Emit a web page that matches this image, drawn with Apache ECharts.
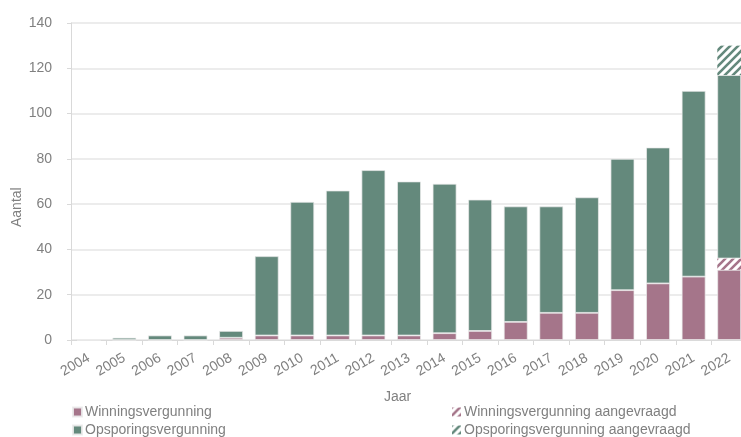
<!DOCTYPE html>
<html>
<head>
<meta charset="utf-8">
<script src="https://cdn.jsdelivr.net/npm/echarts@6/dist/echarts.min.js"></script>
<style>
html,body{margin:0;padding:0;background:#fff;}
#chart{width:741px;height:437px;}
</style>
</head>
<body>
<div id="chart"></div>
<script>
var years = ['2004','2005','2006','2007','2008','2009','2010','2011','2012','2013','2014','2015','2016','2017','2018','2019','2020','2021','2022'];
var winning = [0,0,0,0,1,2,2,2,2,2,3,4,8,12,12,22,25,28,31];
var winningAangevraagd = [null,null,null,null,null,null,null,null,null,null,null,null,null,null,null,null,null,null,5];
var opsporing = [0,1,2,2,3,35,59,64,73,68,66,58,51,47,51,58,60,82,81];
var opsporingAangevraagd = [null,null,null,null,null,null,null,null,null,null,null,null,null,null,null,null,null,null,13];

var GREEN = '#64897c';
var PINK = '#a5758a';

function hatch(color){
  var c = document.createElement('canvas');
  c.width = 8; c.height = 8;
  var ctx = c.getContext('2d');
  ctx.fillStyle = '#ffffff';
  ctx.fillRect(0,0,8,8);
  ctx.strokeStyle = color;
  ctx.lineWidth = 2.6;
  ctx.beginPath();
  ctx.moveTo(-2,10); ctx.lineTo(10,-2);
  ctx.moveTo(-2,2); ctx.lineTo(2,-2);
  ctx.moveTo(6,10); ctx.lineTo(10,6);
  ctx.stroke();
  return {image: c, repeat: 'repeat'};
}

var chart = echarts.init(document.getElementById('chart'), null, {renderer:'canvas'});
var FONT = 'Liberation Sans, Arial, sans-serif';
var border = {borderColor:'rgba(235,235,235,0.9)', borderWidth:0.8};
var legendText = {color:'#808080', fontSize:14, fontFamily:FONT, padding:[0,0,0,-2]};
function leg(name, left, top){
  return {data:[name], left:left, top:top, itemWidth:9, itemHeight:9, icon:'rect',
    itemGap:0, padding:0, textStyle:legendText};
}

chart.setOption({
  animation:false,
  backgroundColor:'#fff',
  textStyle:{fontFamily:FONT},
  grid:{left:71, width:676, top:23, bottom:97, containLabel:false, outerBoundsMode:'none'},
  xAxis:{
    type:'category',
    data:years,
    axisLine:{lineStyle:{color:'#d9d9d9', width:1}},
    axisTick:{show:true, length:5, lineStyle:{color:'#d9d9d9'}},
    axisLabel:{rotate:30, color:'#808080', fontSize:14, fontFamily:FONT, margin:17, interval:0}
  },
  yAxis:{
    type:'value',
    min:0, max:140, interval:20,
    axisLine:{show:true, lineStyle:{color:'#d9d9d9'}},
    axisTick:{show:true, length:4, lineStyle:{color:'#d9d9d9'}},
    splitLine:{lineStyle:{color:'#e6e6e6', width:1.5}},
    axisLabel:{color:'#808080', fontSize:14, fontFamily:FONT, margin:19}
  },
  legend:[
    leg('Winningsvergunning', 72, 405),
    leg('Opsporingsvergunning', 72, 423),
    leg('Winningsvergunning aangevraagd', 452, 405),
    leg('Opsporingsvergunning aangevraagd', 452, 423)
  ],
  graphic:[
    {type:'text', left:384, top:390, style:{text:'Jaar', fill:'#808080', font:'14px '+FONT}},
    {type:'text', x:10, y:227, rotation:Math.PI/2, style:{text:'Aantal', fill:'#808080', font:'14px '+FONT}}
  ],
  series:[
    {name:'Winningsvergunning', type:'bar', stack:'t', data:winning, barCategoryGap:'33%',
      itemStyle:Object.assign({color:PINK}, border)},
    {name:'Winningsvergunning aangevraagd', type:'bar', stack:'t', data:winningAangevraagd,
      itemStyle:{color:hatch(PINK)}},
    {name:'Opsporingsvergunning', type:'bar', stack:'t', data:opsporing,
      itemStyle:Object.assign({color:GREEN}, border)},
    {name:'Opsporingsvergunning aangevraagd', type:'bar', stack:'t', data:opsporingAangevraagd,
      itemStyle:{color:hatch(GREEN)}}
  ]
});
</script>
</body>
</html>
